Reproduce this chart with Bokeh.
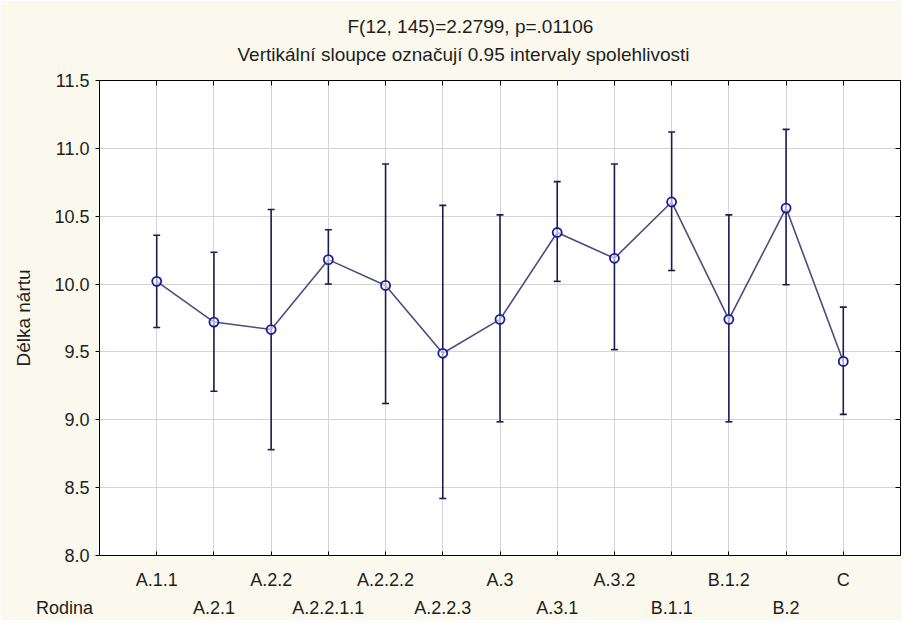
from bokeh.plotting import figure
from bokeh.models import (LinearAxis, FixedTicker, Grid, Title, ColumnDataSource,
                          NumeralTickFormatter)
from bokeh.embed import file_html
from bokeh.resources import INLINE

# ---- data ----
families = ["A.1.1", "A.2.1", "A.2.2", "A.2.2.1.1", "A.2.2.2", "A.2.2.3", "A.3",
            "A.3.1", "A.3.2", "B.1.1", "B.1.2", "B.2", "C"]
means = [10.02, 9.72, 9.665, 10.18, 9.99, 9.49, 9.74, 10.38, 10.19, 10.605, 9.74, 10.56, 9.43]
ci_upper = [10.36, 10.235, 10.55, 10.40, 10.885, 10.58, 10.51, 10.755, 10.885, 11.12, 10.51, 11.14, 9.83]
ci_lower = [9.68, 9.21, 8.78, 10.0, 9.12, 8.42, 8.985, 10.02, 9.517, 10.10, 8.985, 9.995, 9.04]
y_ticks = [8.0, 8.5, 9.0, 9.5, 10.0, 10.5, 11.0, 11.5]
title_line1 = "F(12, 145)=2.2799, p=.01106"
title_line2 = "Vertikální sloupce označují 0.95 intervaly spolehlivosti"
y_label = "Délka nártu"
x_label = "Rodina"

FONT = "Liberation Sans"
TXT = "#1e1e1e"
BG = "#fbf8ed"
NB = "\u00a0"

positions = list(range(1, len(families) + 1))
src = ColumnDataSource(dict(x=positions, mean=means, lo=ci_lower, hi=ci_upper))

p = figure(width=902, height=620, x_range=(0, len(families) + 1),
           y_range=(y_ticks[0], y_ticks[-1]),
           output_backend="svg", toolbar_location=None,
           x_axis_location=None, y_axis_location=None, title_location=None,
           min_border_left=99, min_border_right=2, min_border_top=80, min_border_bottom=65)
p.border_fill_color = BG
p.background_fill_color = "white"
p.outline_line_color = "black"
p.outline_line_width = 1

# grids
p.add_layout(Grid(dimension=0, ticker=FixedTicker(ticks=positions),
                  grid_line_color="#d4d4d4", grid_line_width=1))
p.add_layout(Grid(dimension=1, ticker=FixedTicker(ticks=y_ticks),
                  grid_line_color="#d4d4d4", grid_line_width=1))

# left axis
yax = LinearAxis(ticker=FixedTicker(ticks=y_ticks),
                 formatter=NumeralTickFormatter(format="0.0"),
                 axis_label=y_label, axis_label_text_font=FONT,
                 axis_label_text_font_size="19px", axis_label_text_font_style="normal",
                 axis_label_text_color=TXT, axis_label_standoff=17,
                 major_label_text_font=FONT, major_label_text_font_size="18px",
                 major_label_text_color=TXT, major_label_standoff=6,
                 major_tick_in=0, major_tick_out=4, minor_tick_line_color=None,
                 axis_line_color=None, major_tick_line_color="black")
p.add_layout(yax, "left")

# right axis: inner ticks only
rax = LinearAxis(ticker=FixedTicker(ticks=y_ticks),
                 major_label_overrides={t: "" for t in y_ticks},
                 major_label_text_font_size="0px", major_label_standoff=0,
                 major_tick_in=5, major_tick_out=0, minor_tick_line_color=None,
                 axis_line_color=None, major_tick_line_color="black")
p.add_layout(rax, "right")

# two rows of category labels below; the lower row also carries the axis name
odd = positions[0::2]
even = positions[1::2]
upper_labels = {i: (families[i - 1] if i in odd else "") for i in positions}
xax1 = LinearAxis(ticker=FixedTicker(ticks=positions),
                  major_label_overrides=upper_labels,
                  major_label_text_font=FONT, major_label_text_font_size="18px",
                  major_label_text_color=TXT, major_label_standoff=14,
                  major_tick_in=4, major_tick_out=0, minor_tick_line_color=None,
                  axis_line_color=None, major_tick_line_color="black")
lower_labels = {i: families[i - 1] for i in even}
lower_labels[0] = x_label + NB * 14
xax2 = LinearAxis(ticker=FixedTicker(ticks=[0] + even),
                  major_label_overrides=lower_labels,
                  major_label_text_font=FONT, major_label_text_font_size="18px",
                  major_label_text_color=TXT, major_label_standoff=5,
                  major_tick_in=0, major_tick_out=0, minor_tick_line_color=None,
                  axis_line_color=None, major_tick_line_color=None)
p.add_layout(xax1, "below")
p.add_layout(xax2, "below")

# error bars
p.segment(x0="x", y0="lo", x1="x", y1="hi", source=src, line_color="#1c1c4e", line_width=1.6)
p.scatter(x="x", y="hi", source=src, marker="dash", size=7, line_color="#1c1c4e", line_width=1.6)
p.scatter(x="x", y="lo", source=src, marker="dash", size=7, line_color="#1c1c4e", line_width=1.6)
# mean line and markers
p.line(x="x", y="mean", source=src, line_color="#4c4c80", line_width=1.6)
p.scatter(x="x", y="mean", source=src, marker="circle", size=9,
          line_color="#1a1aa0", line_width=1.8, fill_color="white", fill_alpha=0.6)

# top axis (inner ticks only) and the two-line title above it
tax = LinearAxis(ticker=FixedTicker(ticks=positions),
                 major_label_overrides={i: "" for i in positions},
                 major_label_text_font_size="0px", major_label_standoff=0,
                 major_tick_in=5, major_tick_out=0, minor_tick_line_color=None,
                 axis_line_color=None, major_tick_line_color="black")
t2 = Title(text=title_line2 + "\n" + NB, align="left", offset=138, standoff=0,
           text_line_height=0.75,
           text_font=FONT, text_font_size="19px", text_font_style="normal", text_color=TXT)
t1 = Title(text=title_line1, align="left", offset=248, standoff=9,
           text_font=FONT, text_font_size="19px", text_font_style="normal", text_color=TXT)
p.add_layout(tax, "above")
p.add_layout(t2, "above")
p.add_layout(t1, "above")

open("out.html", "w").write(file_html(p, INLINE))
